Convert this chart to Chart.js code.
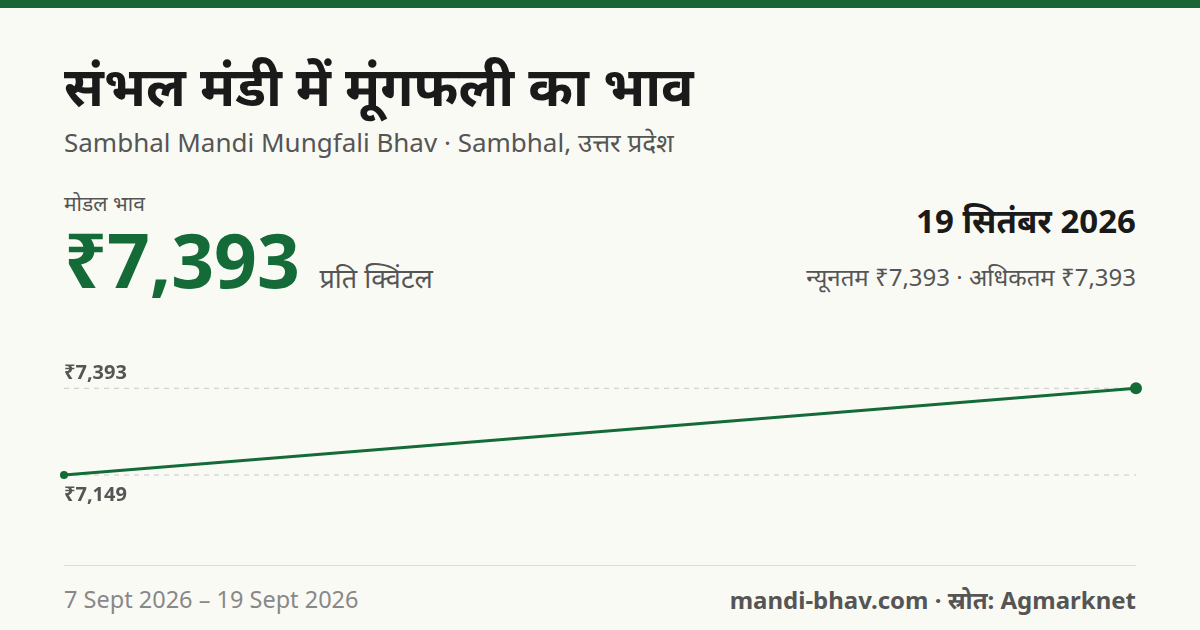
<!DOCTYPE html>
<html><head><meta charset="utf-8">
<script src="https://cdn.jsdelivr.net/npm/chart.js@4"></script>
<style>
body{margin:0;width:1200px;height:630px;background:#fafaf5;font-family:"Noto Sans","Noto Sans Devanagari",sans-serif;position:relative;overflow:hidden}
.bar{position:absolute;left:0;top:0;width:1200px;height:8px;background:#1a6436}
.t{position:absolute;white-space:nowrap}
</style></head><body>
<div class="bar"></div>
<div class="t" style="left:64px;top:48px;font-size:54px;font-weight:700;color:#1a1a1a">संभल मंडी में मूंगफली का भाव</div>
<div class="t" style="left:64px;top:124px;font-size:26px;color:#555">Sambhal Mandi Mungfali Bhav · Sambhal, उत्तर प्रदेश</div>
<div class="t" style="left:64px;top:189px;font-size:21px;color:#555">मोडल भाव</div>
<div class="t" style="left:64px;top:218px;font-size:75px;font-weight:700;color:#146b38;line-height:1.1">₹7,393 <span style="font-size:27px;font-weight:400;color:#555">प्रति क्विंटल</span></div>
<div class="t" style="right:64px;top:198px;font-size:33px;font-weight:700;color:#1a1a1a">19 सितंबर 2026</div>
<div class="t" style="right:64px;top:260px;font-size:24px;color:#555">न्यूनतम ₹7,393 · अधिकतम ₹7,393</div>
<div style="position:absolute;left:0;top:340px;width:1200px;height:200px"><canvas id="c"></canvas></div>
<div style="position:absolute;left:64px;top:565px;width:1072px;height:1px;background:#ddd"></div>
<div class="t" style="left:64px;top:583px;font-size:23.5px;color:#888">7 Sept 2026 – 19 Sept 2026</div>
<div class="t" style="right:64px;top:583px;font-size:24px;font-weight:700;color:#555">mandi-bhav.com · स्रोत: Agmarknet</div>
<script>
const dates=["7 Sept 2026","19 Sept 2026"];
const prices=[7149,7393];
const refLines=[{v:7393,label:"₹7,393",above:true},{v:7149,label:"₹7,149",above:false}];
const guide={id:"guide",beforeDatasetsDraw(ch){const c=ch.ctx,y=ch.scales.y,a=ch.chartArea;c.save();
refLines.forEach(r=>{const py=y.getPixelForValue(r.v);c.strokeStyle="#c8c8c8";c.lineWidth=1;c.setLineDash([5,5]);c.beginPath();c.moveTo(a.left,py);c.lineTo(a.right,py);c.stroke();
c.setLineDash([]);c.fillStyle="#555";c.font="bold 20px 'Noto Sans',sans-serif";c.textBaseline=r.above?"bottom":"top";c.fillText(r.label,a.left,r.above?py-5:py+10);});c.restore();}};
new Chart(document.getElementById("c"),{type:"line",data:{labels:dates,datasets:[{data:prices,borderColor:"#146b38",borderWidth:3,pointBackgroundColor:"#146b38",pointBorderWidth:0,pointRadius:[4,6],clip:false,tension:0}]},
options:{responsive:true,maintainAspectRatio:false,animation:false,layout:{padding:{left:64,right:64,top:0,bottom:0}},
plugins:{legend:{display:false},tooltip:{enabled:false}},
scales:{x:{display:false,offset:false},y:{display:false,min:6983,max:7512}}},plugins:[guide]});
</script></body></html>
